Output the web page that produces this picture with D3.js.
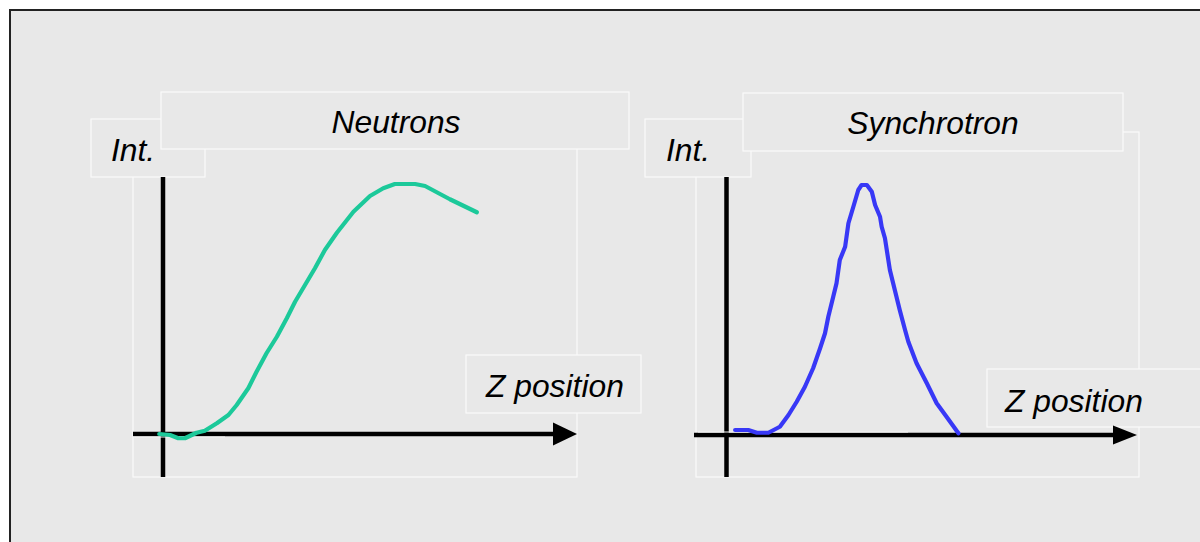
<!DOCTYPE html>
<html lang="en">
<head>
  <meta charset="UTF-8" />
  <title>Neutrons vs Synchrotron</title>
  <script src="https://d3js.org/d3.v7.min.js"></script>
  <style>
    body { margin: 0; background: #fff; }
    svg text {
      font-family: "Liberation Sans", Arial, sans-serif;
      font-style: italic;
      font-size: 31.8px;
      fill: #000;
    }
    .box { fill: #e8e8e8; stroke: #fafafa; stroke-width: 1.2; }
    .frame { fill: none; stroke: #fafafa; stroke-width: 1.2; }
    .axis { stroke: #000; stroke-width: 4.5; fill: none; }
    .curve { fill: none; stroke-width: 4.2; stroke-linejoin: round; stroke-linecap: round; }
  </style>
</head>
<body>
  <svg id="chart" width="1200" height="542"></svg>

  <script>
    // neutron profile (z in % of axis length, intensity in % of peak)
    const neutronZ = [-0.9, 1.7, 3.7, 5.3, 8.1, 10.1, 13.0, 15.8, 17.8, 20.6, 22.6, 25.0, 27.5,
      29.9, 31.9, 34.3, 36.7, 39.1, 42.0, 46.0, 50.0, 53.2, 56.0, 60.9, 63.3, 69.3, 75.8];
    const neutronInt = [0, -0.4, -1.7, -1.7, 0.5, 1.3, 4.3, 7.6, 11.6, 18.3, 24.9, 32.3, 38.9,
      46.3, 52.9, 59.6, 66.3, 73.6, 80.5, 88.9, 95.2, 98.3, 100, 100, 99.2, 93.9, 88.7];

    // synchrotron profile
    const synchZ = [2.1, 5.3, 7.4, 10.2, 13.0, 15.1, 17.1, 19.1, 21.1, 22.8, 24.0, 24.8, 26.0,
      26.8, 27.6, 28.9, 29.7, 30.9, 32.1, 32.9, 34.2, 35.4, 36.2, 37.4, 37.8, 38.6, 39.8, 41.0,
      42.2, 43.5, 44.3, 46.3, 48.8, 51.2, 53.6, 56.5];
    const synchInt = [2.0, 2.0, 0.9, 0.9, 3.3, 8.0, 13.3, 19.3, 26.7, 34.7, 40.7, 47.3, 55.3,
      60.7, 70.0, 75.3, 84.7, 91.3, 98.0, 100, 100, 97.3, 92.0, 87.3, 83.3, 78.7, 66.0, 58.0,
      50.0, 42.0, 37.3, 28.7, 20.7, 12.7, 7.3, 0.7];

    const titles = ["Neutrons", "Synchrotron"];
    const yLabel = "Int.";
    const xLabel = "Z position";

    const svg = d3.select("#chart");

    // outer slide frame
    svg.append("rect")
      .attr("x", 10).attr("y", 10)
      .attr("width", 1200).attr("height", 540)
      .attr("fill", "#e8e8e8")
      .attr("stroke", "#222")
      .attr("stroke-width", 2);

    const panels = [
      {
        title: titles[0], z: neutronZ, v: neutronInt, color: "#1cc99a",
        ox: 163, oy: 434, xEnd: 577, top: 184, axisLeft: 133, arrowH: 11.5,
        frame: [133, 131, 577, 477],
        intBox: [91, 119, 205, 177], intText: [111, 161],
        titleBox: [161, 92, 629, 149], titleText: [396, 133],
        zBox: [466, 355, 641, 413], zText: [486, 397],
        highlight: [133, 225, 437]
      },
      {
        title: titles[1], z: synchZ, v: synchInt, color: "#3838f6",
        ox: 726.5, oy: 435, xEnd: 1137, top: 185, axisLeft: 694, arrowH: 9.5,
        frame: [696, 132, 1139, 477],
        intBox: [645, 119, 751, 177], intText: [666, 161],
        titleBox: [743, 93, 1123, 151], titleText: [933, 134],
        zBox: [987, 369, 1215, 427], zText: [1005, 412],
        highlight: [698, 908, 432]
      }
    ];

    panels.forEach(p => {
      const g = svg.append("g");
      const x = d3.scaleLinear().domain([0, 100]).range([p.ox, p.xEnd]);
      const y = d3.scaleLinear().domain([0, 100]).range([p.oy, p.top]);

      const box = (b, cls) => g.append("rect").attr("class", cls)
        .attr("x", b[0]).attr("y", b[1])
        .attr("width", b[2] - b[0]).attr("height", b[3] - b[1]);

      box(p.frame, "frame");
      box(p.intBox, "box");
      g.append("text").attr("x", p.intText[0]).attr("y", p.intText[1]).text(yLabel);
      box(p.titleBox, "box");
      g.append("text").attr("x", p.titleText[0]).attr("y", p.titleText[1])
        .attr("text-anchor", "middle").text(p.title);
      box(p.zBox, "box");
      g.append("text").attr("x", p.zText[0]).attr("y", p.zText[1]).text(xLabel);

      // axes
      g.append("line").attr("class", "axis")
        .attr("x1", p.ox).attr("x2", p.ox)
        .attr("y1", 177).attr("y2", 477);
      const tip = x(100);
      g.append("line").attr("class", "axis")
        .attr("x1", p.axisLeft).attr("x2", tip - 12)
        .attr("y1", y(0)).attr("y2", y(0));
      g.append("path")
        .attr("d", `M${tip - 24},${y(0) - p.arrowH}L${tip},${y(0)}L${tip - 24},${y(0) + p.arrowH}Z`)
        .attr("fill", "#000");
      g.append("line")
        .attr("x1", p.highlight[0]).attr("x2", p.highlight[1])
        .attr("y1", p.highlight[2]).attr("y2", p.highlight[2])
        .attr("stroke", "#f4f4f4").attr("stroke-width", 1);

      const line = d3.line()
        .x((d, i) => x(p.z[i]))
        .y(d => y(d));
      g.append("path").attr("class", "curve")
        .attr("stroke", p.color)
        .attr("d", line(p.v));
    });
  </script>
</body>
</html>
